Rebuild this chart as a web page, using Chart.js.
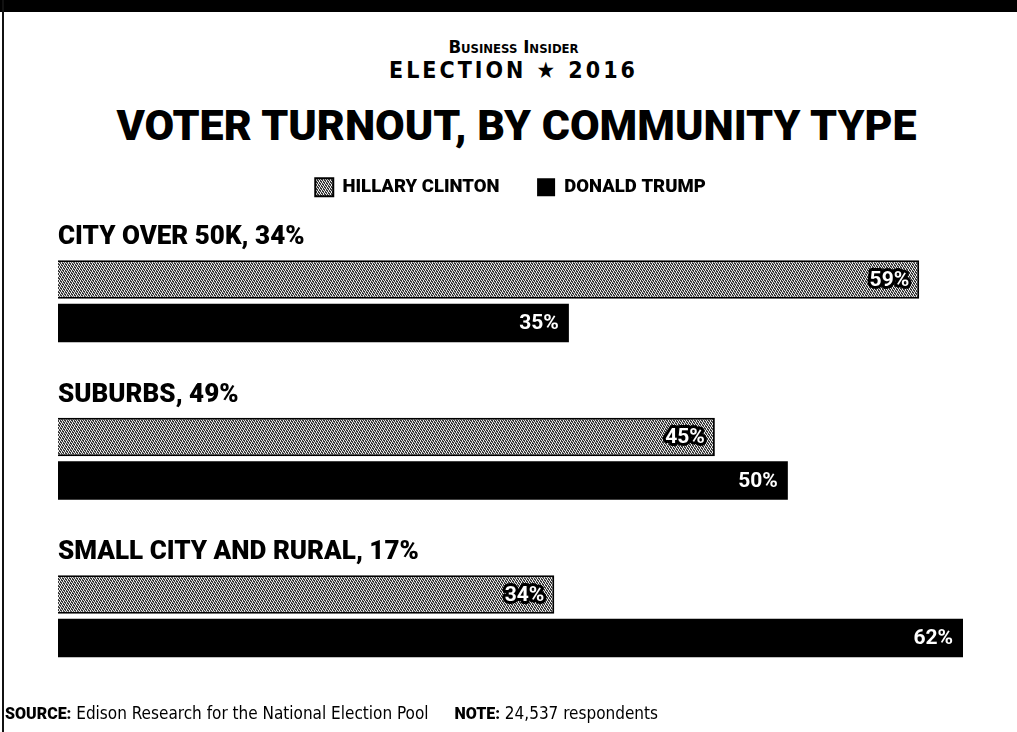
<!DOCTYPE html>
<html>
<head>
<meta charset="utf-8">
<title>Voter turnout by community type</title>
<script src="https://cdn.jsdelivr.net/npm/chart.js@4.4.0/dist/chart.umd.min.js"></script>
<style>
  html, body { margin: 0; padding: 0; background: #fff; }
  body { width: 1017px; height: 732px; position: relative; overflow: hidden; font-family: Roboto, sans-serif; color: #000; }
  #topbar { position: absolute; left: 0; top: 0; width: 1017px; height: 12px; background: #000; }
  #leftline { position: absolute; left: 2px; top: 0; width: 2px; height: 732px; background: #111; }
  .hdr { position: absolute; left: 0; width: 1027px; text-align: center; white-space: nowrap; line-height: 1; }
  #brand { top: 38px; font-family: "Liberation Sans Narrow", "DejaVu Sans Condensed", sans-serif; font-stretch: condensed; font-variant: small-caps; font-weight: bold; font-size: 18.5px; }
  #election { top: 59px; font-family: "Liberation Sans Narrow", "DejaVu Sans Condensed", sans-serif; font-stretch: condensed; font-weight: bold; font-size: 23px; letter-spacing: 3px; }
  #title { top: 104px; width: 1033px; font-family: Roboto, sans-serif; font-weight: 900; font-size: 43px; }
  #footer { position: absolute; left: 5px; top: 703px; font-family: "Liberation Sans Narrow", "DejaVu Sans Condensed", sans-serif; font-stretch: condensed; font-size: 17px; white-space: nowrap; }
  #footer b { font-family: Roboto, sans-serif; font-stretch: normal; font-weight: 900; font-size: 16px; }
  #footer .note { margin-left: 26px; }
  #chart { position: absolute; left: 0; top: 0; }
</style>
</head>
<body>
<div id="topbar"></div>
<div id="leftline"></div>
<div class="hdr" id="brand">Business Insider</div>
<div class="hdr" id="election">ELECTION &#9733; 2016</div>
<div class="hdr" id="title">VOTER TURNOUT, BY COMMUNITY TYPE</div>
<canvas id="chart" width="1017" height="732"></canvas>
<div id="footer"><b>SOURCE:</b> Edison Research for the National Election Pool<span class="note"><b>NOTE:</b> 24,537 respondents</span></div>

<script>
// Community types and their share of all voters
const categories = ['CITY OVER 50K', 'SUBURBS', 'SMALL CITY AND RURAL'];
const shareOfVoters = [34, 49, 17];

// Vote share by candidate, in %
const seriesNames = ['HILLARY CLINTON', 'DONALD TRUMP'];
const clintonPct = [59, 45, 34];
const trumpPct = [35, 50, 62];

// Grey halftone fill for the Clinton bars
function makeHalftone() {
    const c = document.createElement('canvas');
    c.width = 7;
    c.height = 7;
    const g = c.getContext('2d');
    g.fillStyle = '#3a3a3a';
    g.fillRect(0, 0, 7, 7);
    g.fillStyle = '#e6e6e6';
    for (let y = 0; y < 7; y++) {
        for (let x = 0; x < 7; x++) {
            if ((x * 3 + y * 5) % 7 < 3) g.fillRect(x, y, 1, 1);
        }
    }
    return g.createPattern(c, 'repeat');
}

// Percent labels inside the bar ends, and the group headings above each pair
const barLabels = {
    id: 'barLabels',
    afterDatasetsDraw(chart) {
        const ctx = chart.ctx;
        ctx.save();
        ctx.font = 'bold 21px Roboto';
        ctx.textAlign = 'right';
        ctx.textBaseline = 'middle';
        ctx.lineJoin = 'round';
        chart.data.datasets.forEach((ds, di) => {
            chart.getDatasetMeta(di).data.forEach((bar, i) => {
                const txt = ds.data[i] + '%';
                const x = bar.x - 10;
                const y = bar.y + 1;
                if (di === 0) {
                    ctx.lineWidth = 6;
                    ctx.strokeStyle = '#000';
                    ctx.strokeText(txt, x, y);
                }
                ctx.fillStyle = '#fff';
                ctx.fillText(txt, x, y);
            });
        });

        ctx.font = '900 26px Roboto';
        ctx.textAlign = 'left';
        ctx.textBaseline = 'alphabetic';
        ctx.fillStyle = '#000';
        const first = chart.getDatasetMeta(0).data;
        categories.forEach((name, i) => {
            const top = first[i].y - first[i].height / 2;
            ctx.fillText(name + ', ' + shareOfVoters[i] + '%', chart.chartArea.left, top - 16);
        });
        ctx.restore();
    }
};

function initializeChart() {
    const ctx = document.getElementById('chart').getContext('2d');
    const halftone = makeHalftone();

    new Chart(ctx, {
        type: 'bar',
        data: {
            labels: categories,
            datasets: [{
                label: seriesNames[0],
                data: clintonPct,
                backgroundColor: halftone,
                borderColor: '#000',
                borderWidth: 2,
                categoryPercentage: 0.552,
                barPercentage: 0.885
            }, {
                label: seriesNames[1],
                data: trumpPct,
                backgroundColor: '#000',
                borderColor: '#000',
                borderWidth: 0,
                categoryPercentage: 0.552,
                barPercentage: 0.885
            }]
        },
        options: {
            indexAxis: 'y',
            responsive: false,
            animation: false,
            layout: { padding: { top: 168, left: 58, right: 54, bottom: 37 } },
            plugins: {
                legend: {
                    position: 'top',
                    labels: {
                        color: '#000',
                        font: { family: 'Roboto', weight: 900, size: 18.5 },
                        boxWidth: 18,
                        boxHeight: 18,
                        padding: 10,
                        // widen the gap between the two entries
                        generateLabels(chart) {
                            const items = Chart.defaults.plugins.legend.labels.generateLabels(chart);
                            items[0].text += '      ';
                            return items;
                        }
                    }
                },
                tooltip: { enabled: false }
            },
            scales: {
                x: {
                    position: 'top',
                    min: 0,
                    max: 62,
                    ticks: { display: false },
                    grid: { display: false },
                    border: { display: false },
                    afterFit(scale) { scale.height = 16; }
                },
                y: { display: false }
            }
        },
        plugins: [barLabels]
    });
}

document.addEventListener('DOMContentLoaded', function() {
    initializeChart();
});
</script>
</body>
</html>
